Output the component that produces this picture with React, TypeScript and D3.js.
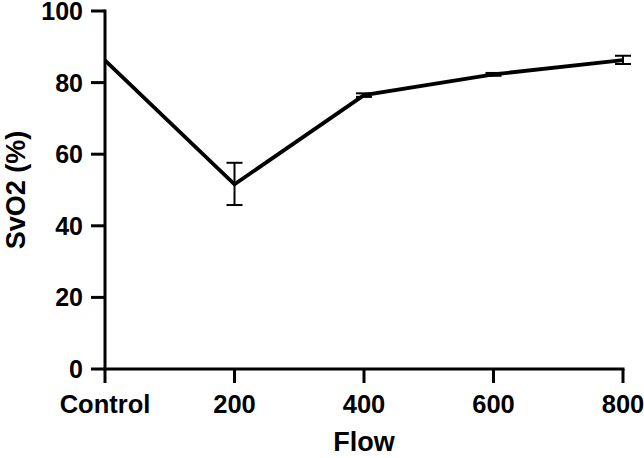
import { useMemo } from 'react';
import * as d3 from 'd3';

// SvO2 by flow rate, mean with error range
const categories = ['Control', '200', '400', '600', '800'];
const means = [86.2, 51.6, 76.5, 82.3, 86.3];
const errLow = [86.2, 45.8, 76.0, 81.9, 85.2];
const errHigh = [86.2, 57.6, 77.0, 82.7, 87.5];
const yTicks = [0, 20, 40, 60, 80, 100];

const W = 644;
const H = 458;
const margin = { top: 11, right: 21, bottom: 89, left: 105 };

export default function App() {
  const innerW = W - margin.left - margin.right;
  const innerH = H - margin.top - margin.bottom;

  const x = useMemo(() => d3.scalePoint<string>().domain(categories).range([0, innerW]), [innerW]);
  const y = useMemo(() => d3.scaleLinear().domain([0, 100]).range([innerH, 0]), [innerH]);

  const points = categories.map((c, i) => ({ c, m: means[i], lo: errLow[i], hi: errHigh[i] }));
  const line = d3.line<typeof points[0]>()
    .x(d => x(d.c) as number)
    .y(d => y(d.m));

  const font = 'Arial, "Liberation Sans", sans-serif';

  return (
    <svg width={W} height={H} style={{ position: 'absolute', left: 0, top: 0 }}>
      <rect width={W} height={H} fill="#fff" />
      <g transform={`translate(${margin.left},${margin.top})`}>
        {/* error bars */}
        {points.map(d => {
          if (d.hi - d.lo < 0.01) return null;
          const cx = x(d.c) as number;
          return (
            <g key={d.c} stroke="#000" strokeWidth={2}>
              <line x1={cx} x2={cx} y1={y(d.lo)} y2={y(d.hi)} />
              <line x1={cx - 8} x2={cx + 8} y1={y(d.lo)} y2={y(d.lo)} />
              <line x1={cx - 8} x2={cx + 8} y1={y(d.hi)} y2={y(d.hi)} />
            </g>
          );
        })}
        <path d={line(points) ?? ''} fill="none" stroke="#000" strokeWidth={3.8} strokeLinejoin="miter" />

        {/* y axis */}
        <line x1={0} x2={0} y1={-1.5} y2={innerH + 1.5} stroke="#000" strokeWidth={3} />
        {yTicks.map(t => (
          <g key={t} transform={`translate(0,${y(t)})`}>
            <line x1={-14} x2={0} stroke="#000" strokeWidth={3} />
            <text x={-22} dy="0.36em" textAnchor="end" fontFamily={font} fontWeight="bold" fontSize={25}>
              {t}
            </text>
          </g>
        ))}

        {/* x axis */}
        <line x1={-1.5} x2={innerW + 1.5} y1={innerH} y2={innerH} stroke="#000" strokeWidth={3} />
        {categories.map(c => (
          <g key={c} transform={`translate(${x(c)},${innerH})`}>
            <line y1={0} y2={14} stroke="#000" strokeWidth={3} />
            <text y={44} textAnchor="middle" fontFamily={font} fontWeight="bold" fontSize={25.5}>
              {c}
            </text>
          </g>
        ))}

        <text
          x={innerW / 2}
          y={innerH + 82}
          textAnchor="middle"
          fontFamily={font}
          fontWeight="bold"
          fontSize={27}
        >
          Flow
        </text>
        <text
          transform={`translate(${-80},${innerH / 2}) rotate(-90)`}
          textAnchor="middle"
          fontFamily={font}
          fontWeight="bold"
          fontSize={27}
        >
          SvO2 (%)
        </text>
      </g>
    </svg>
  );
}
